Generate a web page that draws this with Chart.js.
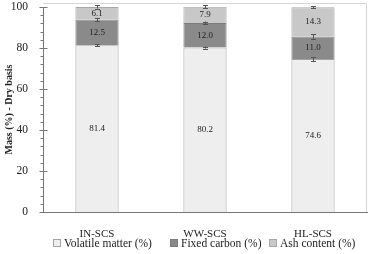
<!DOCTYPE html>
<html>
<head>
<meta charset="utf-8">
<script src="https://cdn.jsdelivr.net/npm/chart.js@4"></script>
<style>
  html, body { margin: 0; padding: 0; background: #fff; }
  #wrap { position: relative; width: 372px; height: 254px; }
  #legend { position: absolute; left: 0; top: 237px; width: 372px; height: 16px;
    font: 11.5px "Liberation Serif", serif; color: #222; }
  #legend .item { position: absolute; top: 0; white-space: nowrap; }
  #legend .box { display: inline-block; width: 6px; height: 6px; border: 1px solid #999;
    margin-right: 3px; vertical-align: 0px; }
</style>
</head>
<body>
<div id="wrap">
  <canvas id="c" width="372" height="254"></canvas>
  <div id="legend"></div>
</div>
<script>
const categories = ['IN-SCS', 'WW-SCS', 'HL-SCS'];
const seriesNames = ['Volatile matter (%)', 'Fixed carbon (%)', 'Ash content (%)'];
const volatileMatter = [81.4, 80.2, 74.6];
const fixedCarbon = [12.5, 12.0, 11.0];
const ashContent = [6.1, 7.9, 14.3];
const volatileErr = [0.5, 0.5, 1.0];
const fixedErr = [0.8, 0.7, 1.2];
const ashErr = [0.8, 0.7, 0.6];
const yTickLabels = [0, 20, 40, 60, 80, 100];

const fills = ['#eeeeee', '#8a8a8a', '#c8c8c8'];
const borders = ['#a3a3a3', '#7c7c7c', '#a8a8a8'];
const serif = '"Liberation Serif", serif';

const seriesValues = [volatileMatter, fixedCarbon, ashContent];
const seriesErrors = [volatileErr, fixedErr, ashErr];

// legend
const legendEl = document.getElementById('legend');
const legendLeft = [53, 170, 269];
seriesNames.forEach((name, i) => {
  const it = document.createElement('span');
  it.className = 'item';
  it.style.left = legendLeft[i] + 'px';
  it.innerHTML = `<span class="box" style="background:${fills[i]};border-color:${borders[i]}"></span>${name}`;
  legendEl.appendChild(it);
});

const extras = {
  id: 'extras',
  afterDatasetsDraw(chart) {
    const { ctx, chartArea, scales: { x, y } } = chart;
    ctx.save();
    // frame top/right
    ctx.strokeStyle = '#d6d6d6';
    ctx.lineWidth = 1;
    ctx.beginPath();
    ctx.moveTo(chartArea.left, chartArea.top - 3.5);
    ctx.lineTo(chartArea.right - 0.5, chartArea.top - 3.5);
    ctx.lineTo(chartArea.right - 0.5, chartArea.bottom);
    ctx.stroke();

    // y ticks: minor every 4, major every 20
    ctx.strokeStyle = '#777';
    const ax = Math.round(chartArea.left) + 0.5;
    for (let v = 0; v <= 100; v += 4) {
      const py = Math.round(y.getPixelForValue(v)) + 0.5;
      ctx.beginPath();
      if (v % 20 === 0) { ctx.moveTo(ax - 4, py); ctx.lineTo(ax + 4, py); }
      else { ctx.moveTo(ax - 3, py); ctx.lineTo(ax, py); }
      ctx.stroke();
    }

    // data labels and error bars
    ctx.font = '9px ' + serif;
    ctx.textAlign = 'center';
    ctx.textBaseline = 'middle';
    categories.forEach((c, i) => {
      const cx = x.getPixelForValue(i);
      let base = 0;
      seriesValues.forEach((vals, s) => {
        const top = base + vals[i];
        ctx.fillStyle = '#222';
        ctx.fillText(vals[i].toFixed(1), cx, y.getPixelForValue((base + top) / 2));
        const e = seriesErrors[s][i];
        const y1 = y.getPixelForValue(top + e), y2 = y.getPixelForValue(top - e);
        ctx.strokeStyle = '#555';
        ctx.beginPath();
        ctx.moveTo(cx + 0.5, y1); ctx.lineTo(cx + 0.5, y2);
        ctx.moveTo(cx - 2, Math.round(y1) + 0.5); ctx.lineTo(cx + 3, Math.round(y1) + 0.5);
        ctx.moveTo(cx - 2, Math.round(y2) + 0.5); ctx.lineTo(cx + 3, Math.round(y2) + 0.5);
        ctx.stroke();
        base = top;
      });
    });
    ctx.restore();
  }
};

new Chart(document.getElementById('c'), {
  type: 'bar',
  data: {
    labels: categories,
    datasets: seriesNames.map((name, s) => ({
      label: name,
      data: seriesValues[s],
      backgroundColor: fills[s],
      borderColor: borders[s],
      borderWidth: 1,
      barPercentage: 0.4,
      categoryPercentage: 1,
    })),
  },
  options: {
    responsive: false,
    animation: false,
    layout: { padding: { top: 7, right: 5, left: 0, bottom: 0 } },
    plugins: { legend: { display: false }, tooltip: { enabled: false } },
    scales: {
      x: {
        stacked: true,
        grid: { display: false },
        border: { display: true, color: '#777' },
        ticks: { color: '#222', font: { family: serif, size: 11 }, padding: 8 },
        afterFit(s) { s.height = 42; },
      },
      y: {
        stacked: true,
        min: 0, max: 100,
        afterBuildTicks(s) { s.ticks = yTickLabels.map(v => ({ value: v })); },
        grid: { display: false },
        border: { display: true, color: '#777' },
        ticks: { color: '#222', font: { family: serif, size: 11.5 }, padding: 7 },
        title: { display: true, text: 'Mass (%) - Dry basis', color: '#222',
          font: { family: serif, size: 10, weight: 'bold' }, padding: { top: 3, bottom: 0 } },
        afterFit(s) { s.width = 43; s.paddingTop = 0; s.paddingBottom = 0; },
      },
    },
  },
  plugins: [extras],
});
</script>
</body>
</html>
